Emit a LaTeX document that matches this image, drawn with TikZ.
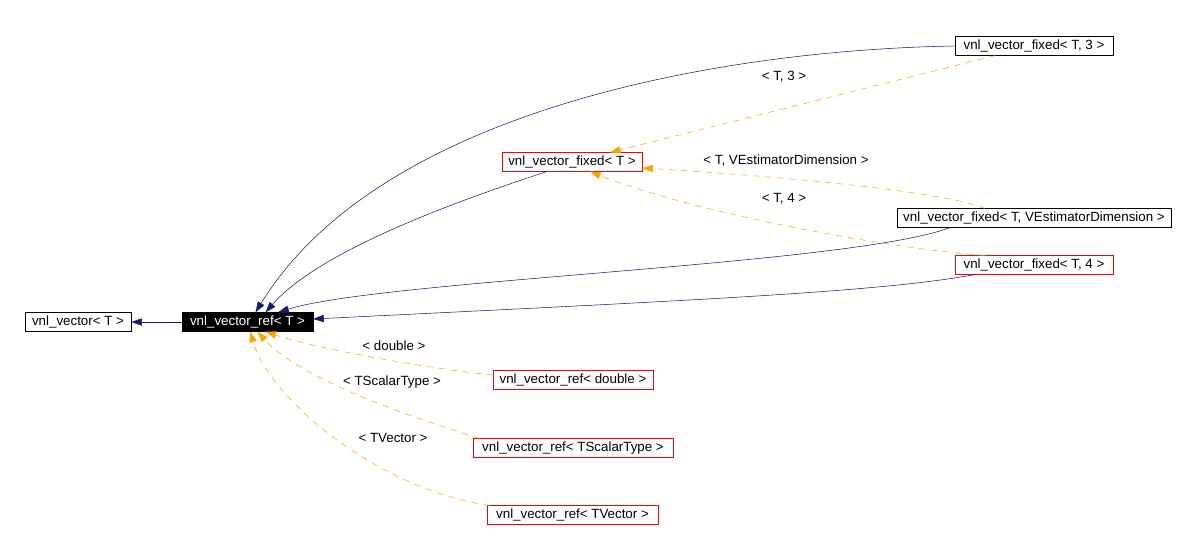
\documentclass[tikz,border=0pt]{standalone}
\usepackage{fontspec}
\setmainfont{Liberation Sans}
\usetikzlibrary{arrows.meta}
\definecolor{edgeblue}{HTML}{191970}
\definecolor{edgeorange}{HTML}{FFA500}

\begin{document}
\begin{tikzpicture}[x=0.75pt,y=-0.75pt,>={Triangle[length=8pt,width=5.5pt]},
every node/.style={font=\fontsize{10}{11}\selectfont},
cls/.style={draw=black,inner sep=0pt,minimum height=14pt,fill=white},
tmpl/.style={cls,draw=red},
pub/.style={->,draw=edgeblue,fill=none},
inst/.style={->,draw=edgeorange,dash pattern=on 4.5pt off 4.5pt}]
\useasboundingbox (0,0) rectangle (1196,542);
% classes
\node[cls,minimum width=79.5pt](vec)at(78,322){vnl\_vector< T >};
\node[cls,fill=black,text=white,minimum width=98pt](ref)at(247.5,322){vnl\_vector\_ref< T >};
\node[tmpl,minimum width=105pt](fix)at(572,162){vnl\_vector\_fixed< T >};
\node[cls,minimum width=118.5pt](fix3)at(1034,46){vnl\_vector\_fixed< T, 3 >};
\node[cls,minimum width=205.5pt](fixved)at(1034,218){vnl\_vector\_fixed< T, VEstimatorDimension >};
\node[tmpl,minimum width=118.5pt](fix4)at(1034,265){vnl\_vector\_fixed< T, 4 >};
\node[tmpl,minimum width=120pt](refdbl)at(573,380){vnl\_vector\_ref< double >};
\node[tmpl,minimum width=150pt](refsc)at(573,448){vnl\_vector\_ref< TScalarType >};
\node[tmpl,minimum width=128pt](refvec)at(572.5,515){vnl\_vector\_ref< TVector >};
% labels
\node(lfix3)at(784,77){< T, 3 >};
\node(lfixved)at(786,161){< T, VEstimatorDimension >};
\node(lfix4)at(784,199){< T, 4 >};
\node(lrefdbl)at(394,346){< double >};
\node(lrefsc)at(392,382){< TScalarType >};
\node(lrefvec)at(393,438){< TVector >};
% inheritance
\draw[pub](ref)--(vec);
\draw[pub](fix3.west)..controls(720,50)and(380,110)..([xshift=6pt]ref.north);
\draw[pub]([xshift=-19pt]fix.south)..controls(460,200)and(320,250)..([xshift=13.5pt]ref.north);
\draw[pub]([xshift=40pt]fixved.south west)..controls(850,265)and(380,280)..([xshift=23pt]ref.north);
\draw[pub]([xshift=15pt]fix4.south west)..controls(880,292)and(700,300)..([yshift=2.25pt]ref.east);
% template instances
\draw[inst]([xshift=-29pt]fix3.south)--([xshift=28.5pt]fix.north);
\draw[inst]([xshift=-37pt]fixved.north)..controls(940,190)and(760,175)..([yshift=-4.5pt]fix.east);
\draw[inst]([xshift=22.5pt]fix4.north west)..controls(900,250)and(700,215)..([xshift=13.5pt]fix.south);
\draw[inst]([yshift=3.75pt]refdbl.west)..controls(440,370)and(320,350)..([xshift=13.5pt]ref.south);
\draw[inst]([xshift=5pt]refsc.north west)..controls(420,420)and(300,380)..([xshift=7.5pt]ref.south);
\draw[inst]([xshift=2pt]refvec.north west)..controls(380,490)and(270,400)..([xshift=2pt]ref.south);
\end{tikzpicture}
\end{document}
